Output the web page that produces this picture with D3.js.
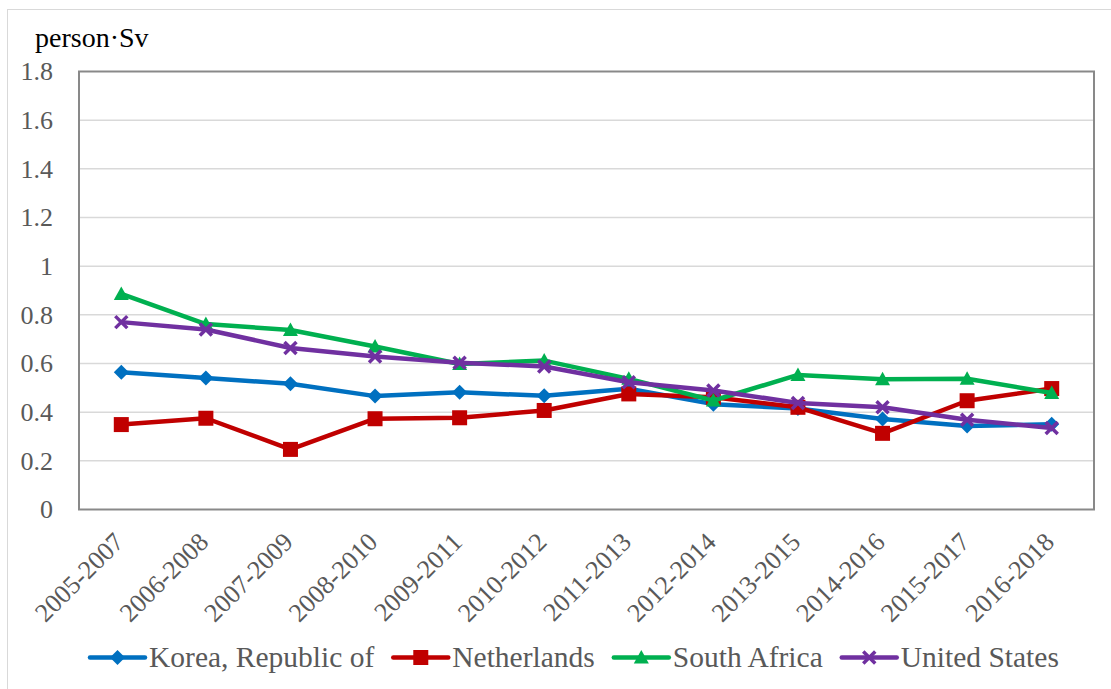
<!DOCTYPE html>
<html>
<head>
<meta charset="utf-8">
<script src="https://cdn.jsdelivr.net/npm/d3@7"></script>
<style>
  html, body { margin: 0; padding: 0; background: #fff; }
  svg text { font-family: "Liberation Serif", "Times New Roman", serif !important; }
</style>
</head>
<body>
<svg id="chart" width="1111" height="689"></svg>
<script>
const categories = ["2005-2007","2006-2008","2007-2009","2008-2010","2009-2011","2010-2012","2011-2013","2012-2014","2013-2015","2014-2016","2015-2017","2016-2018"];
const korea       = [0.564, 0.540, 0.517, 0.466, 0.482, 0.467, 0.496, 0.433, 0.415, 0.372, 0.343, 0.350];
const netherlands = [0.349, 0.375, 0.247, 0.373, 0.377, 0.407, 0.475, 0.461, 0.420, 0.313, 0.447, 0.497];
const southAfrica = [0.886, 0.762, 0.738, 0.670, 0.598, 0.612, 0.537, 0.448, 0.553, 0.535, 0.537, 0.479];
const unitedStates= [0.770, 0.740, 0.664, 0.629, 0.603, 0.588, 0.523, 0.489, 0.438, 0.420, 0.369, 0.335];
const yTicks = [0, 0.2, 0.4, 0.6, 0.8, 1, 1.2, 1.4, 1.6, 1.8];
const yTickLabels = ["0","0.2","0.4","0.6","0.8","1","1.2","1.4","1.6","1.8"];
const seriesNames = ["Korea, Republic of","Netherlands","South Africa","United States"];
const yUnit = "person·Sv";

const series = [
  {name: seriesNames[0], values: korea,        color: "#0070c0", marker: "diamond"},
  {name: seriesNames[1], values: netherlands,  color: "#c00000", marker: "square"},
  {name: seriesNames[2], values: southAfrica,  color: "#00b050", marker: "triangle"},
  {name: seriesNames[3], values: unitedStates, color: "#7030a0", marker: "x"}
];

const FONT = "'Liberation Serif', 'Times New Roman', serif";
const svg = d3.select("#chart");
const m = {left: 79, right: 1094, top: 71.5, bottom: 509.5};

// outer chart border
svg.append("rect").attr("x", 7.5).attr("y", 9.5).attr("width", 1120).attr("height", 700)
  .attr("fill", "#fff").attr("stroke", "#d9d9d9").attr("stroke-width", 1);

const x = d3.scaleBand().domain(categories).range([m.left, m.right]).paddingInner(0).paddingOuter(0);
const y = d3.scaleLinear().domain([0, 1.8]).range([m.bottom, m.top]);
const cx = c => x(c) + x.bandwidth() / 2;

// gridlines
svg.append("g").selectAll("line").data(yTicks.slice(1, -1)).join("line")
  .attr("x1", m.left).attr("x2", m.right)
  .attr("y1", d => y(d)).attr("y2", d => y(d))
  .attr("stroke", "#d9d9d9").attr("stroke-width", 1.5);

// plot border
svg.append("rect").attr("x", m.left).attr("y", m.top)
  .attr("width", m.right - m.left).attr("height", m.bottom - m.top)
  .attr("fill", "none").attr("stroke", "#898989").attr("stroke-width", 2);

// y axis
const yAxis = d3.axisLeft(y).tickValues(yTicks).tickFormat((d, i) => yTickLabels[i]).tickSize(0).tickPadding(26);
const gy = svg.append("g").attr("transform", `translate(${m.left},0)`).call(yAxis);
gy.attr("font-family", null);
gy.select(".domain").remove();
gy.selectAll("text").attr("font-size", 26).attr("fill", "#595959").style("font-family", FONT);

// x axis
const xAxis = d3.axisBottom(x).tickSize(0).tickPadding(0);
const gx = svg.append("g").attr("transform", `translate(0,${m.bottom})`).call(xAxis);
gx.attr("font-family", null);
gx.select(".domain").remove();
gx.selectAll("text")
  .attr("font-size", 26).attr("fill", "#595959").style("font-family", FONT)
  .attr("text-anchor", "end")
  .attr("y", 0).attr("dy", 0)
  .attr("transform", "translate(4,34) rotate(-45)");

// unit label
svg.append("text").attr("x", 35).attr("y", 47).attr("font-size", 28).attr("fill", "#000")
  .style("font-family", FONT).text(yUnit);

// markers
function drawMarker(g, type, color, px, py) {
  if (type === "diamond") {
    const r = 7.5;
    g.append("path").attr("d", `M${px},${py - r}L${px + r},${py}L${px},${py + r}L${px - r},${py}Z`).attr("fill", color);
  } else if (type === "square") {
    const r = 7.5;
    g.append("rect").attr("x", px - r).attr("y", py - r).attr("width", 2 * r).attr("height", 2 * r).attr("fill", color);
  } else if (type === "triangle") {
    const r = 7.5;
    g.append("path").attr("d", `M${px},${py - r}L${px + r},${py + r * 0.8}L${px - r},${py + r * 0.8}Z`).attr("fill", color);
  } else if (type === "x") {
    const r = 6;
    g.append("path").attr("d", `M${px - r},${py - r}L${px + r},${py + r}M${px + r},${py - r}L${px - r},${py + r}`)
      .attr("stroke", color).attr("stroke-width", 3.5).attr("fill", "none");
  }
}

const line = d3.line().x((d, i) => cx(categories[i])).y(d => y(d));
series.forEach(s => {
  const g = svg.append("g");
  g.append("path").attr("d", line(s.values)).attr("fill", "none")
    .attr("stroke", s.color).attr("stroke-width", 4.5).attr("stroke-linejoin", "round").attr("stroke-linecap", "round");
  s.values.forEach((v, i) => drawMarker(g, s.marker, s.color, cx(categories[i]), y(v)));
});

// legend
const legend = svg.append("g");
let lx = 90;
const ly = 657.5;
series.forEach(s => {
  const g = legend.append("g");
  g.append("line").attr("x1", lx).attr("x2", lx + 55).attr("y1", ly).attr("y2", ly)
    .attr("stroke", s.color).attr("stroke-width", 4.5).attr("stroke-linecap", "round");
  drawMarker(g, s.marker, s.color, lx + 27.5, ly);
  const t = g.append("text").attr("x", lx + 59).attr("y", ly + 9).attr("font-size", 29.5)
    .attr("fill", "#595959").style("font-family", FONT).text(s.name);
  lx += 59 + t.node().getComputedTextLength() + 19;
});
</script>
</body>
</html>
